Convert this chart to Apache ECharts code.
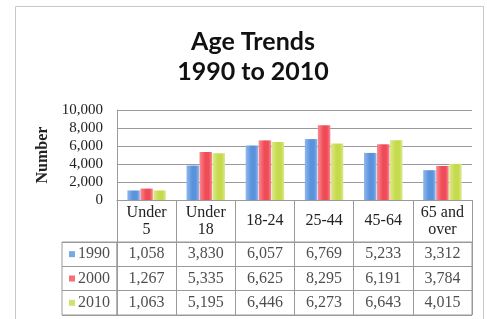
<!DOCTYPE html>
<html>
<head>
<meta charset="utf-8">
<script src="https://cdn.jsdelivr.net/npm/echarts@6/dist/echarts.min.js"></script>
<style>html,body{margin:0;padding:0;background:#fff}#c{width:487px;height:319px}</style>
</head>
<body>
<div id="c"></div>
<script>
const categories = ['Under\n5', 'Under\n18', '18-24', '25-44', '45-64', '65 and\nover'];
const years = ['1990', '2000', '2010'];
const values1990 = [1058, 3830, 6057, 6769, 5233, 3312];
const values2000 = [1267, 5335, 6625, 8295, 6191, 3784];
const values2010 = [1063, 5195, 6446, 6273, 6643, 4015];
const yTicks = [0, 2000, 4000, 6000, 8000, 10000];

const seriesValues = [values1990, values2000, values2010];
const baseColors = ['#5a92dc', '#f04c58', '#c6da4e'];
const lightColors = ['#8fb8ec', '#f78a92', '#dde98e'];
const lineColor = '#9a9a9a';
const serif = '"Liberation Serif", "Times New Roman", serif';

const chart = echarts.init(document.getElementById('c'), null, {renderer: 'canvas'});

function grad(i) {
  return new echarts.graphic.LinearGradient(0, 0, 1, 0, [
    {offset: 0, color: lightColors[i]},
    {offset: 0.45, color: baseColors[i]},
    {offset: 0.75, color: baseColors[i]},
    {offset: 1, color: lightColors[i]}
  ]);
}

const fmt = v => v.toLocaleString('en-US');

const barSeries = years.map((y, i) => ({
  name: y,
  type: 'bar',
  xAxisIndex: 0,
  yAxisIndex: 0,
  data: seriesValues[i],
  barGap: '4%',
  barCategoryGap: '35%',
  itemStyle: {color: grad(i)},
  silent: true
}));

const cellSeries = years.map((y, i) => ({
  name: y + ' table',
  type: 'scatter',
  xAxisIndex: 1,
  yAxisIndex: 1,
  symbolSize: 1,
  itemStyle: {color: 'rgba(0,0,0,0)'},
  data: seriesValues[i].map((v, k) => [k, i, v]),
  label: {
    show: true,
    position: 'inside',
    formatter: p => fmt(p.value[2]),
    fontFamily: serif,
    fontSize: 16,
    color: '#222'
  },
  silent: true
}));

const legendSeries = {
  name: 'keys',
  type: 'scatter',
  xAxisIndex: 2,
  yAxisIndex: 2,
  symbolSize: 1,
  itemStyle: {color: 'rgba(0,0,0,0)'},
  data: years.map((y, i) => [0, i]),
  label: {
    show: true,
    position: 'inside',
    formatter: p => '{k' + p.dataIndex + '|}{t|' + years[p.dataIndex] + '}',
    rich: {
      k0: {width: 6, height: 6, backgroundColor: baseColors[0]},
      k1: {width: 6, height: 6, backgroundColor: baseColors[1]},
      k2: {width: 6, height: 6, backgroundColor: baseColors[2]},
      t: {fontFamily: serif, fontSize: 16, color: '#222', padding: [0, 0, 0, 3]}
    }
  },
  silent: true
};

const option = {
  animation: false,
  backgroundColor: '#fff',
  title: {
    text: 'Age Trends\n1990 to 2010',
    left: 248,
    top: 22,
    textAlign: 'center',
    textStyle: {fontFamily: 'Lato', fontWeight: 'bold', fontSize: 25, lineHeight: 30, color: '#111'}
  },
  graphic: [{
    type: 'rect',
    shape: {x: 15.5, y: 6.5, width: 468, height: 330},
    style: {fill: 'none', stroke: '#c8c8c8', lineWidth: 1},
    silent: true
  }],
  grid: [
    {left: 117, right: 15, top: 110, height: 90},
    {left: 117, right: 15, top: 242, height: 73, show: true, borderColor: lineColor, borderWidth: 1},
    {left: 62, width: 55, top: 242, height: 73, show: true, borderColor: lineColor, borderWidth: 1}
  ],
  xAxis: [
    {
      gridIndex: 0, type: 'category', data: categories,
      axisLine: {show: true, lineStyle: {color: lineColor}},
      axisTick: {show: true, length: 42, interval: 0, lineStyle: {color: lineColor}},
      axisLabel: {
        interval: 0, margin: 21, verticalAlign: 'middle', lineHeight: 17,
        fontFamily: serif, fontSize: 16, color: '#222'
      }
    },
    {
      gridIndex: 1, type: 'category', data: categories,
      axisLine: {show: false}, axisTick: {show: false}, axisLabel: {show: false},
      splitLine: {show: true, interval: 0, lineStyle: {color: lineColor}}
    },
    {
      gridIndex: 2, type: 'category', data: [''],
      axisLine: {show: false}, axisTick: {show: false}, axisLabel: {show: false},
      splitLine: {show: false}
    }
  ],
  yAxis: [
    {
      gridIndex: 0, type: 'value', min: yTicks[0], max: yTicks[yTicks.length - 1], interval: 2000,
      name: 'Number', nameLocation: 'middle', nameGap: 58, nameRotate: 90,
      nameTextStyle: {fontFamily: serif, fontWeight: 'bold', fontSize: 16, color: '#222'},
      axisLine: {show: true, lineStyle: {color: lineColor}},
      axisTick: {show: false},
      axisLabel: {margin: 14, fontFamily: serif, fontSize: 15, color: '#222', formatter: v => fmt(v)},
      splitLine: {show: true, lineStyle: {color: lineColor}}
    },
    {
      gridIndex: 1, type: 'category', data: years, inverse: true,
      axisLine: {show: false}, axisTick: {show: false}, axisLabel: {show: false},
      splitLine: {show: true, interval: 0, lineStyle: {color: lineColor}}
    },
    {
      gridIndex: 2, type: 'category', data: years, inverse: true,
      axisLine: {show: false}, axisTick: {show: false}, axisLabel: {show: false},
      splitLine: {show: true, interval: 0, lineStyle: {color: lineColor}}
    }
  ],
  series: [...barSeries, ...cellSeries, legendSeries]
};

chart.setOption(option);
</script>
</body>
</html>
